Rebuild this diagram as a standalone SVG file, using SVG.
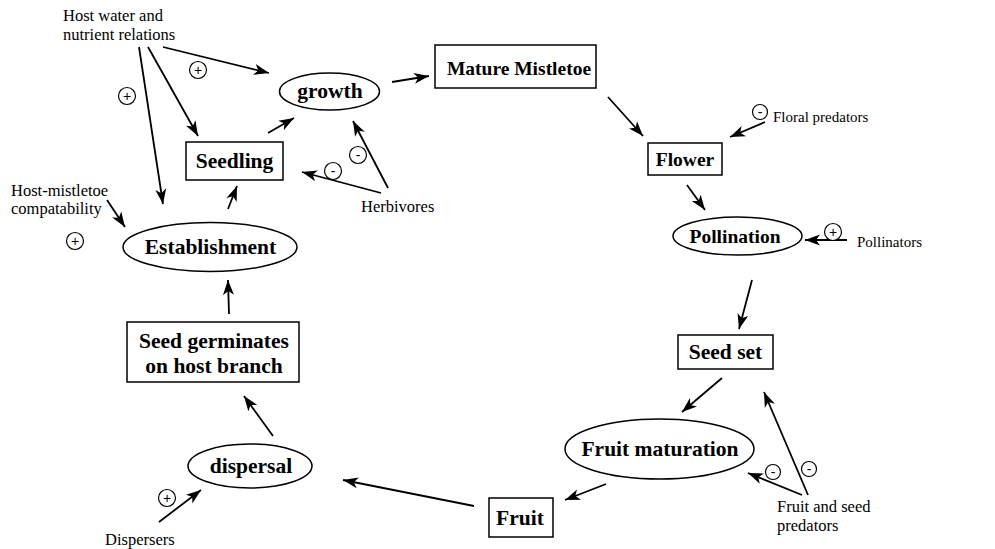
<svg xmlns="http://www.w3.org/2000/svg" width="995" height="549" viewBox="0 0 995 549">
<defs>
<marker id="ah" markerUnits="userSpaceOnUse" markerWidth="16" markerHeight="12" refX="15" refY="5.5" orient="auto" viewBox="0 0 16 11">
<path d="M0,0 L15,5.5 L0,11 L4,5.5 z" fill="#000"/>
</marker>
</defs>
<style>
.box{fill:#fff;stroke:#000;stroke-width:1.5}
.nb{font-family:"Liberation Serif","Times New Roman",serif;font-weight:bold;font-size:21.5px;text-anchor:middle;fill:#000}
.nbs{font-size:19.5px}
.lb{font-family:"Liberation Serif","Times New Roman",serif;font-size:16.5px;fill:#000}
.lbs{font-size:15px}
.c{fill:none;stroke:#000;stroke-width:1.8;marker-end:url(#ah)}
.sg circle{fill:#fff;stroke:#000;stroke-width:1.2}
.sg text{font-family:"Liberation Sans",Arial,sans-serif;font-size:14px;text-anchor:middle;fill:#000}
</style>
<rect width="995" height="549" fill="#fff"/>

<g id="connectors">
<line class="c" x1="163" y1="47" x2="269" y2="73"/>
<line class="c" x1="148" y1="47" x2="198" y2="136"/>
<line class="c" x1="139" y1="47" x2="163" y2="204"/>
<line class="c" x1="107" y1="200" x2="125" y2="227"/>
<line class="c" x1="228" y1="209" x2="237" y2="186"/>
<line class="c" x1="268" y1="133" x2="294" y2="118"/>
<line class="c" x1="381" y1="193" x2="302" y2="172"/>
<line class="c" x1="388" y1="188" x2="353" y2="121"/>
<line class="c" x1="392" y1="82" x2="429" y2="76"/>
<line class="c" x1="608" y1="97" x2="643" y2="136"/>
<line class="c" x1="765" y1="122" x2="730" y2="137"/>
<line class="c" x1="687" y1="185" x2="705" y2="210"/>
<line class="c" x1="847" y1="240" x2="805" y2="240"/>
<line class="c" x1="752" y1="280" x2="739" y2="329"/>
<line class="c" x1="722" y1="378" x2="682" y2="412"/>
<line class="c" x1="606" y1="484" x2="565" y2="500"/>
<line class="c" x1="802" y1="495" x2="748" y2="473"/>
<line class="c" x1="808" y1="495" x2="764" y2="392"/>
<line class="c" x1="474" y1="506" x2="343" y2="480"/>
<line class="c" x1="159" y1="522" x2="201" y2="490"/>
<line class="c" x1="273" y1="436" x2="244" y2="396"/>
<line class="c" x1="229" y1="314" x2="228" y2="280"/>
</g>

<g id="signs" class="sg">
<g id="s1"><circle cx="198" cy="70" r="8.5"/><text x="198" y="75">+</text></g>
<g id="s2"><circle cx="127" cy="96" r="8.5"/><text x="127" y="101">+</text></g>
<g id="s3"><circle cx="75" cy="241" r="8.5"/><text x="75" y="246">+</text></g>
<g id="s4"><circle cx="333" cy="171" r="8.5"/><text x="333" y="176">-</text></g>
<g id="s5"><circle cx="358" cy="155" r="8.5"/><text x="358" y="160">-</text></g>
<g id="s6"><circle cx="760" cy="112" r="7.5"/><text x="760" y="117">-</text></g>
<g id="s7"><circle cx="833" cy="232" r="8.5"/><text x="833" y="237">+</text></g>
<g id="s8"><circle cx="773" cy="472" r="7.5"/><text x="773" y="477">-</text></g>
<g id="s9"><circle cx="809" cy="469" r="7.5"/><text x="809" y="474">-</text></g>
<g id="s10"><circle cx="167" cy="498" r="8.5"/><text x="167" y="503">+</text></g>
</g>

<g id="growth"><ellipse class="box" cx="329.5" cy="91.5" rx="50" ry="18.5"/><text class="nb" x="330" y="98">growth</text></g>
<g id="seedling"><rect class="box" x="186" y="142" width="97" height="38"/><text class="nb" x="234.5" y="168">Seedling</text></g>
<g id="establishment"><ellipse class="box" cx="210" cy="247" rx="87" ry="24.5"/><text class="nb" x="210.5" y="254">Establishment</text></g>
<g id="mature"><rect class="box" x="435" y="45" width="161" height="43"/><text class="nb nbs" x="519" y="75">Mature Mistletoe</text></g>
<g id="flower"><rect class="box" x="648" y="143" width="74" height="32"/><text class="nb nbs" x="685" y="166">Flower</text></g>
<g id="pollination"><ellipse class="box" cx="737.5" cy="236" rx="64.5" ry="19"/><text class="nb nbs" x="735" y="243">Pollination</text></g>
<g id="seedset"><rect class="box" x="678" y="335" width="95" height="34"/><text class="nb" x="725.5" y="359">Seed set</text></g>
<g id="fruitmat"><ellipse class="box" cx="659.5" cy="449" rx="94.5" ry="30"/><text class="nb" x="660" y="456">Fruit maturation</text></g>
<g id="fruit"><rect class="box" x="489" y="498" width="64" height="39"/><text class="nb" x="520" y="525">Fruit</text></g>
<g id="dispersal"><ellipse class="box" cx="250" cy="466" rx="62" ry="22"/><text class="nb" x="251" y="473">dispersal</text></g>
<g id="germinates"><rect class="box" x="127" y="322" width="172" height="60"/><text class="nb" x="214" y="348">Seed germinates</text><text class="nb" x="214" y="373">on host branch</text></g>

<g id="labels" font-family="'Liberation Serif', 'Times New Roman', serif" font-size="16.5" fill="#000">
<text x="63" y="21">Host water and</text>
<text x="63" y="40">nutrient relations</text>
<text x="11" y="196">Host-mistletoe</text>
<text x="11" y="214">compatability</text>
<text x="361" y="212">Herbivores</text>
<text x="773" y="122" font-size="15">Floral predators</text>
<text x="857" y="247" font-size="15">Pollinators</text>
<text x="777" y="512">Fruit and seed</text>
<text x="777" y="531">predators</text>
<text x="105" y="545">Dispersers</text>
</g>
</svg>
